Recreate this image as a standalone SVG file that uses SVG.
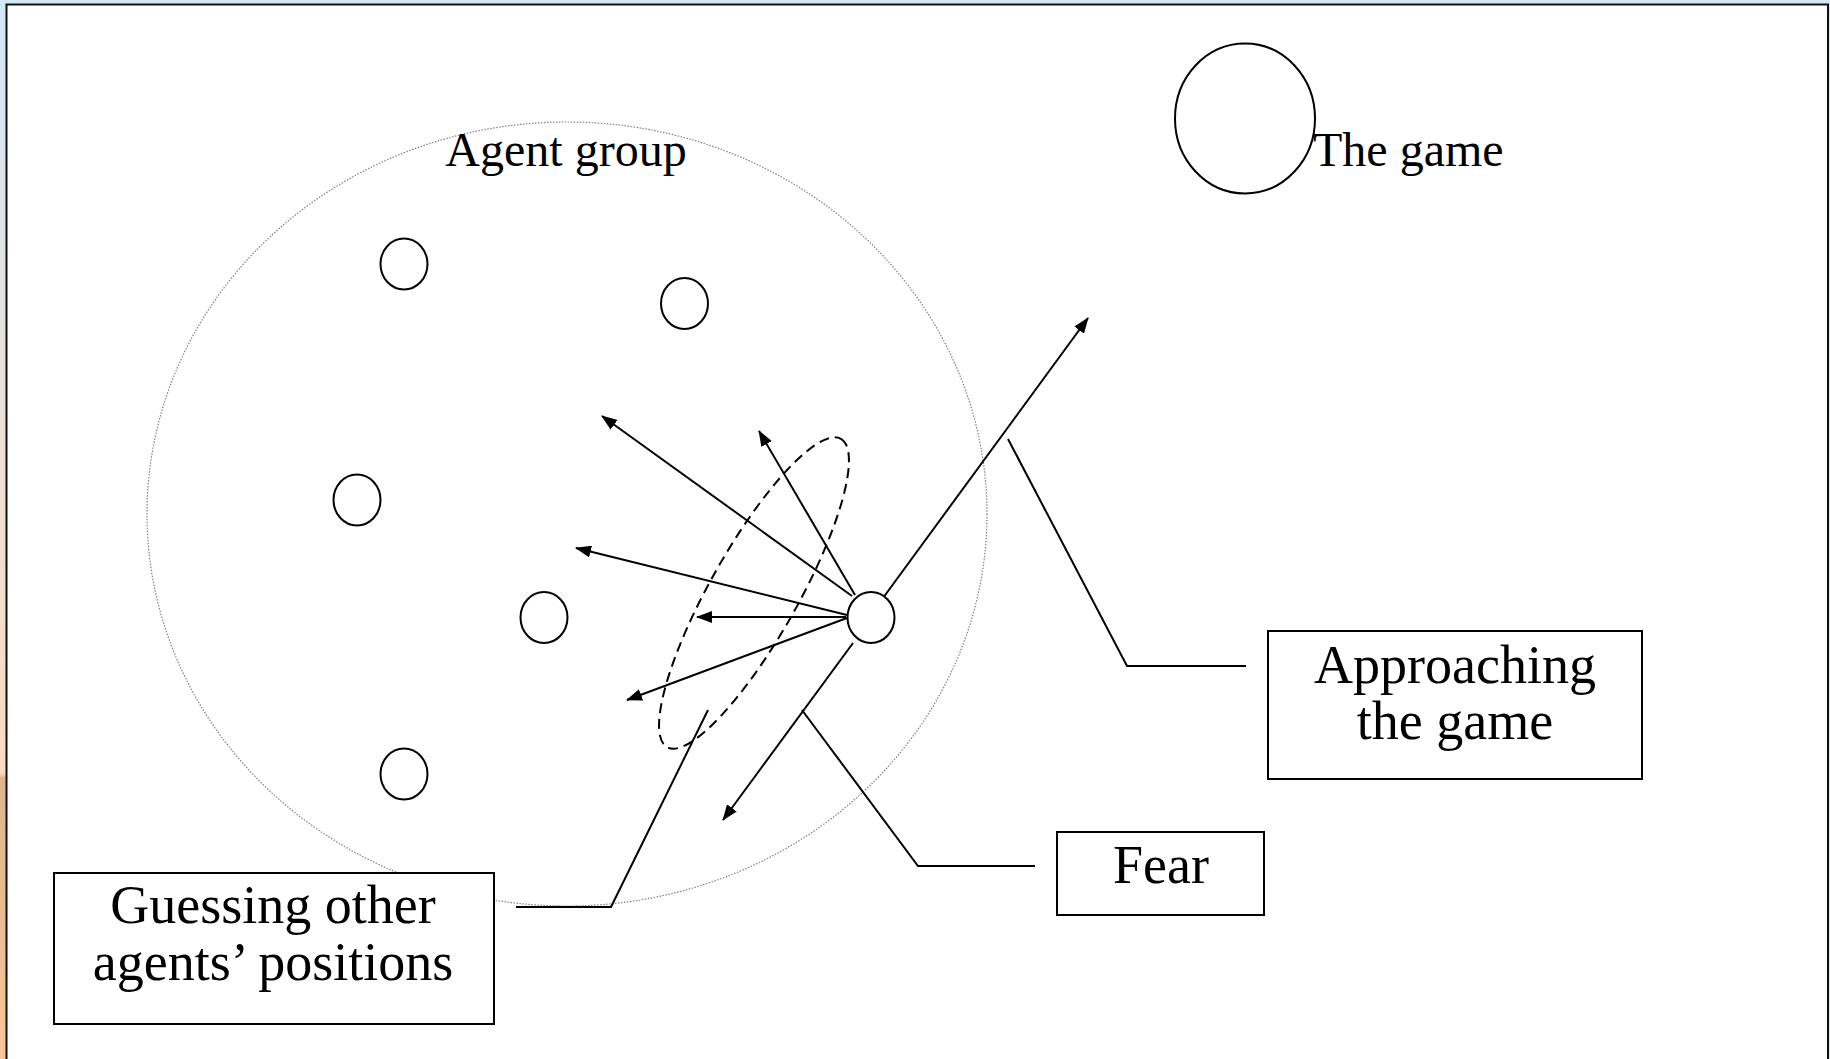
<svg xmlns="http://www.w3.org/2000/svg" width="1830" height="1059" viewBox="0 0 1830 1059">
  <defs>
    <linearGradient id="leftStrip" x1="0" y1="0" x2="0" y2="1">
      <stop offset="0" stop-color="#d4e7f5"/>
      <stop offset="0.73" stop-color="#f9dbc1"/>
      <stop offset="0.735" stop-color="#dcb590"/>
      <stop offset="1" stop-color="#f8c793"/>
    </linearGradient>
    <marker id="arrow" markerUnits="userSpaceOnUse" markerWidth="16" markerHeight="12" refX="15" refY="6" orient="auto">
      <path d="M0,0 L16,6 L0,12 Z" fill="#000"/>
    </marker>
    <style>
      .txt { font-family: "Liberation Serif", "Times New Roman", serif; fill: #000; }
      .lbl { font-size: 48px; }
      .box-txt { font-size: 54px; text-anchor: middle; }
      .box { fill: #fff; stroke: #000; stroke-width: 2; }
      .agent { fill: #fff; stroke: #000; stroke-width: 2; }
      .line { fill: none; stroke: #000; stroke-width: 2; }
      .arrow { fill: none; stroke: #000; stroke-width: 2; marker-end: url(#arrow); }
    </style>
  </defs>

  <!-- frame -->
  <rect x="0" y="0" width="1830" height="1059" fill="#d4e7f5"/>
  <rect x="0" y="0" width="6" height="1059" fill="url(#leftStrip)"/>
  <rect x="6.5" y="4.5" width="1821.5" height="1062" fill="#fff" stroke="#111" stroke-width="2"/>

  <!-- agent group boundary -->
  <g id="agent-group">
    <ellipse cx="567" cy="514" rx="420" ry="392" fill="none" stroke="#808080" stroke-width="1.2" stroke-dasharray="1.5 1.5"/>
    <text class="txt lbl" x="566" y="166" text-anchor="middle">Agent group</text>
  </g>

  <!-- the game -->
  <g id="the-game">
    <ellipse cx="1245" cy="118.5" rx="70" ry="75" fill="#fff" stroke="#000" stroke-width="2"/>
    <text class="txt lbl" x="1313" y="166">The game</text>
  </g>

  <!-- agents -->
  <g id="agent-1"><ellipse class="agent" cx="404" cy="264" rx="23.5" ry="25.5"/></g>
  <g id="agent-2"><ellipse class="agent" cx="684.5" cy="303.5" rx="23.5" ry="25.5"/></g>
  <g id="agent-3"><ellipse class="agent" cx="357" cy="500" rx="23.5" ry="25.5"/></g>
  <g id="agent-4"><ellipse class="agent" cx="544" cy="617.5" rx="23.5" ry="25.5"/></g>
  <g id="agent-5"><ellipse class="agent" cx="404" cy="774" rx="23.5" ry="25.5"/></g>

  <!-- guessing region -->
  <g id="guess-region">
    <ellipse cx="754" cy="593" rx="177" ry="44" transform="rotate(-60.6 754 593)" fill="none" stroke="#000" stroke-width="2" stroke-dasharray="10 6"/>
  </g>

  <!-- connectors -->
  <g id="connectors">
    <path class="arrow" d="M883,598 L1088,318"/>
    <path class="arrow" d="M853,643 L723,820"/>
    <path class="arrow" d="M852,596 L602,416"/>
    <path class="arrow" d="M855,595 L759,431"/>
    <path class="arrow" d="M847,615 L576,548"/>
    <path class="arrow" d="M846,617 L697,617"/>
    <path class="arrow" d="M847,618 L627,700"/>
    <path class="line" d="M1008,439 L1127,666 L1246,666"/>
    <path class="line" d="M802,710 L918,866 L1035,866"/>
    <path class="line" d="M708,710 L611,907 L516,907"/>
  </g>

  <!-- central agent -->
  <g id="agent-self"><ellipse class="agent" cx="871" cy="617.5" rx="23.5" ry="25.5"/></g>

  <!-- callout boxes -->
  <g id="approaching-box">
    <rect class="box" x="1268" y="631" width="374" height="148"/>
    <text class="txt box-txt" x="1455" y="682.5">Approaching</text>
    <text class="txt box-txt" x="1455" y="739">the game</text>
  </g>
  <g id="fear-box">
    <rect class="box" x="1057" y="832" width="207" height="83"/>
    <text class="txt box-txt" x="1161" y="882.5">Fear</text>
  </g>
  <g id="guessing-box">
    <rect class="box" x="54" y="873" width="440" height="151"/>
    <text class="txt box-txt" x="273" y="923">Guessing other</text>
    <text class="txt box-txt" x="273" y="980">agents’ positions</text>
  </g>
</svg>
